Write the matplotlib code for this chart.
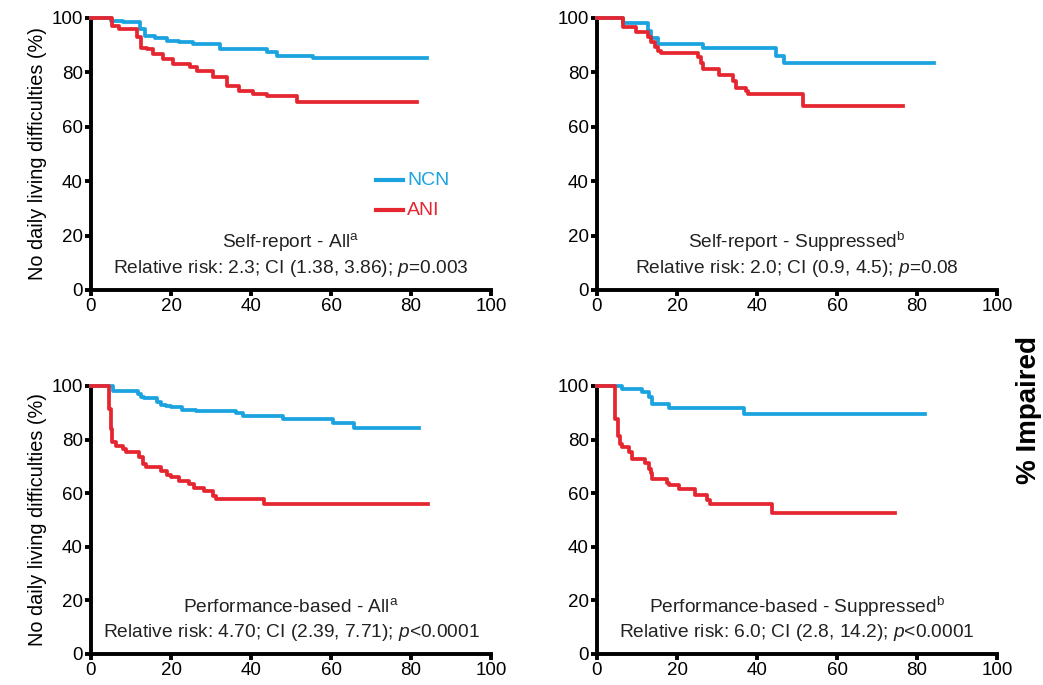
import matplotlib
matplotlib.use("Agg")
import matplotlib.pyplot as plt

plt.rcParams['font.family'] = ['Liberation Sans', 'DejaVu Sans']
plt.rcParams['mathtext.fontset'] = 'custom'
plt.rcParams['mathtext.rm'] = 'Liberation Sans'
plt.rcParams['mathtext.it'] = 'Liberation Sans:italic'

BLUE = '#1ba3e0'
RED = '#e52630'

# Kaplan-Meier style step curves (time, % with no difficulties)
sr_all_ncn_t = [0, 5, 8, 12.2, 13.5, 16, 19, 22, 25.6, 32.2, 44, 46.4, 55.5, 83.9]
sr_all_ncn_y = [100, 99, 98.4, 96, 93.5, 92.5, 91.7, 91, 90.4, 88.6, 87.4, 86.1, 85.2, 85.2]
sr_all_ani_t = [0, 5.2, 7, 11.4, 12.5, 14, 15.6, 18, 20.6, 24.7, 26.5, 30.5, 34, 37, 40.5, 44, 51.5, 81.4]
sr_all_ani_y = [100, 97.2, 96, 93, 89, 88.6, 86.8, 85, 83, 82, 80.6, 78.2, 75.1, 73.3, 72.2, 71.4, 69, 69]

sr_sup_ncn_t = [0, 6.4, 12.7, 13.5, 15.2, 26.4, 44.8, 46.8, 84.3]
sr_sup_ncn_y = [100, 98.1, 95.3, 92.5, 90.4, 88.8, 86, 83.6, 83.6]
sr_sup_ani_t = [0, 6.4, 9.8, 12.7, 13.5, 14.6, 15.2, 16, 25.2, 26, 26.6, 30.6, 33.9, 34.8, 37.3, 37.7, 51.4, 76.4]
sr_sup_ani_y = [100, 96.6, 94.7, 92.9, 91, 89.2, 88, 87.3, 85.5, 83.6, 81.4, 78.9, 76.8, 74.4, 73.2, 72.2, 67.8, 67.8]

pb_all_ncn_t = [0, 5.4, 11.7, 12.5, 13.3, 16.6, 17.4, 18.7, 19.9, 22.8, 26.2, 36.2, 37.9, 47.9, 60.4, 65.8, 82.1]
pb_all_ncn_y = [100, 98, 97.1, 96, 95.5, 94, 93, 92.4, 92.1, 91.2, 90.8, 89.8, 88.9, 87.7, 86.2, 84.2, 84.2]
pb_all_ani_t = [0, 4.6, 4.9, 5.3, 6.2, 7.9, 8.8, 9.6, 12.1, 12.9, 13.7, 17.4, 19.1, 19.9, 22, 24.6, 25.8,
                28.3, 30.4, 31.2, 33.7, 43.3, 84.2]
pb_all_ani_y = [100, 91.5, 84, 79, 77.7, 76.5, 75.2, 75.2, 73.4, 70.9, 69.6, 68.4, 66.7, 65.9, 64.6, 63.4,
                62.1, 60.8, 58.9, 57.9, 57.9, 55.8, 55.8]

pb_sup_ncn_t = [0, 6.3, 11.2, 12.9, 13.7, 17.9, 36.7, 82.1]
pb_sup_ncn_y = [100, 98.7, 97.8, 95.9, 93.4, 91.8, 89.7, 89.7]
pb_sup_ani_t = [0, 4.6, 5.2, 5.8, 6.3, 7.9, 8.8, 9.6, 12.1, 12.9, 13.4, 13.7, 17.5, 17.9, 20.4, 24.6, 27.5,
                28.3, 30, 43.8, 74.6]
pb_sup_ani_y = [100, 87.7, 81.4, 78.3, 77.1, 75.2, 72.9, 72.9, 71.4, 68.9, 67.4, 65.4, 63.9, 62.9, 61.4,
                59.2, 57.4, 55.8, 55.8, 52.7, 52.7]

titles = [r"Self-report - All$^{\mathrm{a}}$", r"Self-report - Suppressed$^{\mathrm{b}}$",
          r"Performance-based - All$^{\mathrm{a}}$", r"Performance-based - Suppressed$^{\mathrm{b}}$"]
stats = [r"Relative risk: 2.3; CI (1.38, 3.86); $p$=0.003",
         r"Relative risk: 2.0; CI (0.9, 4.5); $p$=0.08",
         r"Relative risk: 4.70; CI (2.39, 7.71); $p$<0.0001",
         r"Relative risk: 6.0; CI (2.8, 14.2); $p$<0.0001"]

curves = [
    (sr_all_ncn_t, sr_all_ncn_y, sr_all_ani_t, sr_all_ani_y),
    (sr_sup_ncn_t, sr_sup_ncn_y, sr_sup_ani_t, sr_sup_ani_y),
    (pb_all_ncn_t, pb_all_ncn_y, pb_all_ani_t, pb_all_ani_y),
    (pb_sup_ncn_t, pb_sup_ncn_y, pb_sup_ani_t, pb_sup_ani_y),
]

fig = plt.figure(figsize=(10.43, 6.85), dpi=100)
W, H = 1043, 685
# axes boxes in pixels: left, top, right, bottom
boxes = [(91, 18, 491, 290), (597, 18, 997, 290), (91, 386, 491, 654), (597, 386, 997, 654)]

for i, (l, t, r, b) in enumerate(boxes):
    ax = fig.add_axes([l / W, 1 - b / H, (r - l) / W, (b - t) / H])
    nt, ny, at, ay = curves[i]
    ax.step(nt, ny, where='post', color=BLUE, lw=2.7, clip_on=False, zorder=3)
    ax.step(at, ay, where='post', color=RED, lw=2.7, clip_on=False, zorder=4)
    ax.set_xlim(0, 100)
    ax.set_ylim(0, 100)
    ax.set_xticks(range(0, 101, 20))
    ax.set_yticks(range(0, 101, 20))
    for s in ['top', 'right']:
        ax.spines[s].set_visible(False)
    for s in ['left', 'bottom']:
        ax.spines[s].set_linewidth(2.8)
    ax.tick_params(width=2.8, length=4, labelsize=13.5, pad=2, colors='black')
    ax.text(50, 17.5, titles[i], ha='center', va='center', fontsize=13.8, color='#222222')
    ax.text(50, 8, stats[i], ha='center', va='center', fontsize=13.8, color='#222222')
    if i % 2 == 0:
        ax.set_ylabel("No daily living difficulties (%)", fontsize=14.3, labelpad=3)
    if i == 0:
        ax.plot([71.3, 78], [40.4, 40.4], color=BLUE, lw=3)
        ax.plot([71.3, 78], [29.4, 29.4], color=RED, lw=3)
        ax.text(79, 40.4, "NCN", color=BLUE, fontsize=14, va='center')
        ax.text(79, 29.4, "ANI", color=RED, fontsize=14, va='center')

fig.text(1029 / W, 1 - 410 / H, "% Impaired", rotation=90, fontsize=20, fontweight='bold',
         ha='center', va='center')

fig.savefig("out.png", dpi=100)
